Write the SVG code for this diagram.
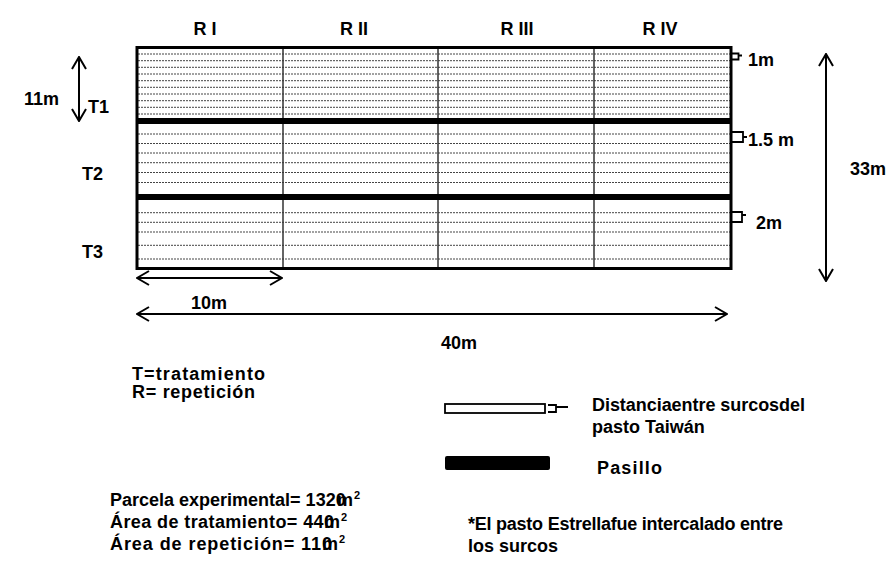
<svg xmlns="http://www.w3.org/2000/svg" width="891" height="561" viewBox="0 0 891 561">
<style>
.t{font-family:"Liberation Sans",Arial,sans-serif;font-weight:bold;font-size:18px;fill:#000}
.sup{font-size:11px}
.row{stroke:#444;stroke-width:1;stroke-dasharray:2 1;fill:none}
.div{stroke:#333;stroke-width:1.5;fill:none}
.dim{stroke:#000;stroke-width:2;fill:none}
.brk{stroke:#000;stroke-width:1.8;fill:none}
</style>
<defs>
<marker id="ah" viewBox="0 0 14 16" refX="13" refY="8" markerWidth="14" markerHeight="16" markerUnits="userSpaceOnUse" orient="auto-start-reverse">
<path d="M1,1 L13,8 L1,15" fill="none" stroke="#000" stroke-width="2"/>
</marker>
</defs>
<rect width="891" height="561" fill="#fff"/>

<g id="plot">
  <g id="rows-T1">
    <path class="row" d="M138,54H730M138,60.7H730M138,67.3H730M138,74H730M138,80.7H730M138,87.3H730M138,94H730M138,100.7H730M138,107.3H730M138,114H730"/>
  </g>
  <g id="rows-T2">
    <path class="row" d="M138,134H730M138,143.5H730M138,153H730M138,162.7H730M138,172.5H730M138,182.5H730"/>
  </g>
  <g id="rows-T3">
    <path class="row" d="M138,212.7H730M138,222.3H730M138,232H730M138,245.3H730M138,259H730"/>
  </g>
  <g id="dividers">
    <path class="div" d="M283,48V268M438,48V268M594,48V268"/>
  </g>
  <g id="pasillos">
    <rect x="137" y="118" width="594" height="6" fill="#000"/>
    <rect x="137" y="194" width="594" height="6" fill="#000"/>
  </g>
  <rect id="border" x="137" y="47.5" width="594" height="221" fill="none" stroke="#000" stroke-width="3"/>
</g>

<g id="headers">
  <text class="t" x="205" y="35" text-anchor="middle">R I</text>
  <text class="t" x="354" y="35" text-anchor="middle">R II</text>
  <text class="t" x="517" y="35" text-anchor="middle">R III</text>
  <text class="t" x="660" y="35" text-anchor="middle">R IV</text>
</g>

<g id="treatments">
  <text class="t" x="24" y="105">11m</text>
  <text class="t" x="88" y="113">T1</text>
  <text class="t" x="82" y="180">T2</text>
  <text class="t" x="82" y="258">T3</text>
</g>

<g id="spacing-marks">
  <path class="brk" d="M732,53.5H738.5V59.5H732M738.5,55.5H742"/>
  <path class="brk" d="M732,132H743V142H732M743,137H747"/>
  <path class="brk" d="M732,212H742V222H732M742,215H746"/>
  <text class="t" x="748" y="66">1m</text>
  <text class="t" x="748" y="146">1.5 m</text>
  <text class="t" x="756" y="229">2m</text>
</g>

<g id="connectors">
  <line class="dim" x1="79" y1="57" x2="79" y2="121" marker-start="url(#ah)" marker-end="url(#ah)"/>
  <line class="dim" x1="826" y1="54" x2="826" y2="281" marker-start="url(#ah)" marker-end="url(#ah)"/>
  <line class="dim" x1="137" y1="278" x2="282" y2="278" marker-start="url(#ah)" marker-end="url(#ah)"/>
  <line class="dim" x1="137" y1="314" x2="727" y2="314" marker-start="url(#ah)" marker-end="url(#ah)"/>
</g>

<g id="dimension-labels">
  <text class="t" x="850" y="175">33m</text>
  <text class="t" x="191" y="309">10m</text>
  <text class="t" x="441" y="349">40m</text>
</g>

<g id="key">
  <text class="t" x="132" y="380" textLength="133" lengthAdjust="spacing">T=tratamiento</text>
  <text class="t" x="132" y="398" textLength="123" lengthAdjust="spacing">R= repetición</text>
</g>

<g id="legend">
  <rect x="445" y="404" width="100" height="9" fill="#fff" stroke="#000" stroke-width="1.8"/>
  <path class="brk" d="M548,405H556V412H548M556,407H568"/>
  <text class="t" x="592" y="411" textLength="213" lengthAdjust="spacing">Distanciaentre surcosdel</text>
  <text class="t" x="592" y="433">pasto Taiwán</text>
  <rect x="445" y="456" width="105" height="14" rx="2" fill="#000"/>
  <text class="t" x="597" y="474" textLength="65" lengthAdjust="spacing">Pasillo</text>
</g>

<g id="areas">
  <text class="t" x="110" y="506">Parcela experimental= 1320</text>
  <text class="t" x="337" y="506">m</text>
  <text class="t sup" x="354" y="499">2</text>
  <text class="t" x="110" y="528" textLength="224" lengthAdjust="spacing">Área de tratamiento= 440</text>
  <text class="t" x="324" y="528">m</text>
  <text class="t sup" x="341" y="521">2</text>
  <text class="t" x="110" y="550" textLength="222" lengthAdjust="spacing">Área de repetición= 110</text>
  <text class="t" x="322" y="550">m</text>
  <text class="t sup" x="339" y="543">2</text>
</g>

<g id="note">
  <text class="t" x="468" y="530" textLength="315" lengthAdjust="spacing">*El pasto Estrellafue intercalado entre</text>
  <text class="t" x="468" y="552">los surcos</text>
</g>
</svg>
